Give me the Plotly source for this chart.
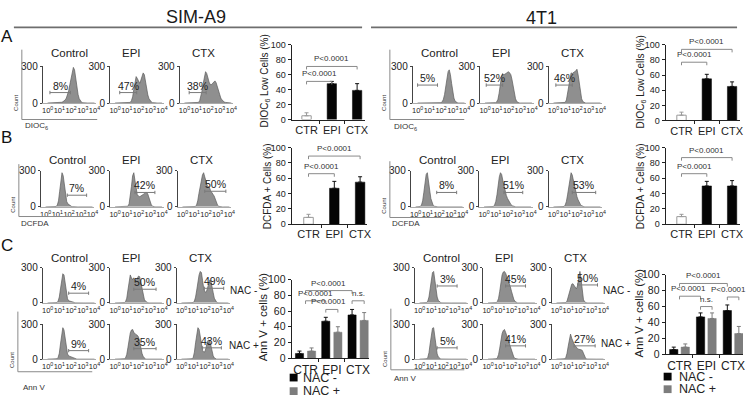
import plotly.graph_objects as go

W, H = 749, 402
FONT = "Liberation Sans Narrow, Arial Narrow, Liberation Sans, Arial, sans-serif"
TXT = "#222222"

# ---------------- data ----------------
LOGX = [0.0, 0.1, 0.2, 0.3, 0.4, 0.5, 0.6, 0.7, 0.8, 0.9, 1.0, 1.1, 1.2, 1.3, 1.4, 1.5, 1.6, 1.7, 1.8, 1.9, 2.0,
        2.1, 2.2, 2.3, 2.4, 2.5, 2.6, 2.7, 2.8, 2.9, 3.0, 3.1, 3.2, 3.3, 3.4, 3.5, 3.6, 3.7, 3.8, 3.9, 4.0]
DECADES = [0, 1, 2, 3, 4]
DECADE_LABELS = ["10<sup>0</sup>", "10<sup>1</sup>", "10<sup>2</sup>", "10<sup>3</sup>", "10<sup>4</sup>"]
CONDS = ["Control", "EPI", "CTX"]
GROUPS = ["CTR", "EPI", "CTX"]

# flow histograms (cell counts per log bin)
SIM_A_CONTROL = [0,0,0,0,0,0,0,0,0,0,0, 3,6,10,15,25,40,65,100,150,205,255,290,270,200,125,70,35,15,6,2, 0,0,0,0,0,0,0,0,0,0]
SIM_A_EPI = [0,0,0,0,0,0,0,0,0,0,0,0,0, 5,20,50,110,180,215,200,175,160,185,225,245,230,170,110,65,35,18,8,3,1, 0,0,0,0,0,0,0]
SIM_A_CTX = [0,0,0,0,0,0,0,0,0,0,0,0, 5,20,50,100,160,220,255,240,200,170,150,150,160,175,180,165,130,95,65,40,25,15,8,5,3,2,1, 0,0]
T1_A_CONTROL = [0,0,0,0,0,0,0,0,0,0,0,0,0,0,0,0,0,0,0,0, 3,10,30,70,130,200,255,270,230,160,90,40,15,5,2, 0,0,0,0,0,0]
T1_A_EPI = [0,0,0,0,0,0,0,0,0, 3,10,30,80,150,215,240,230,235,240,250,255,245,230,190,130,75,35,12,4,1, 0,0,0,0,0,0,0,0,0,0,0]
T1_A_CTX = [0,0,0,0,0,0,0,0,0,0, 5,25,80,160,225,245,240,250,255,260,275,230,150,80,35,12,4,1, 0,0,0,0,0,0,0,0,0,0,0,0,0]

SIM_B_CONTROL = [0,0,0,0,0,0,0,0,0, 3,15,50,130,230,285,260,170,90,45,25,15,8,4,2, 0,0,0,0,0,0,0,0,0,0,0,0,0,0,0,0,0]
SIM_B_EPI = [0,0,0,0,0,0,0,0,0,0,0, 5,25,80,170,260,285,220,140,100,90,85,90,95,100,110,120,120,105,70,35,15,5,1, 0,0,0,0,0,0,0]
SIM_B_CTX = [0,0,0,0,0,0,0,0,0,0,0, 3,15,50,110,170,220,265,285,250,200,180,170,160,135,115,105,90,60,30,12,4,1, 0,0,0,0,0,0,0,0]
T1_B_CONTROL = [0,0,0,0, 3,15,50,120,210,270,285,230,140,70,30,12,5,2, 0,0,0,0,0,0,0,0,0,0,0,0,0,0,0,0,0,0,0,0,0,0,0]
T1_B_EPI = [0,0,0,0,0,0,0,0, 3,15,45,100,180,250,285,270,220,170,130,95,70,50,32,18,9,4,1, 0,0,0,0,0,0,0,0,0,0,0,0,0,0]
T1_B_CTX = [0,0,0,0,0,0,0,0,0, 3,15,45,100,175,245,285,265,215,165,120,85,58,36,20,10,4,1, 0,0,0,0,0,0,0,0,0,0,0,0,0,0]

SIM_C_CONTROL_M = [0,0,0,0,0,0,0,0, 3,15,50,120,200,250,240,160,80,35,18,14,14,10,6,3,1, 0,0,0,0,0,0,0,0,0,0,0,0,0,0,0,0]
SIM_C_EPI_M = [0,0,0,0,0,0,0,0, 3,12,40,110,190,240,215,200,215,195,190,210,230,225,170,110,60,30,14,6,2, 0,0,0,0,0,0,0,0,0,0,0,0]
SIM_C_CTX_M = [0,0,0,0,0,0,0,0,0,0, 3,15,50,110,180,240,270,260,190,120,95,90,120,175,195,190,150,90,40,15,5,1, 0,0,0,0,0,0,0,0,0]
SIM_C_CONTROL_P = [0,0,0,0,0,0,0,0, 3,15,50,130,220,270,250,165,85,45,28,24,22,16,9,4,1, 0,0,0,0,0,0,0,0,0,0,0,0,0,0,0,0]
SIM_C_EPI_P = [0,0,0,0,0,0,0,0, 3,12,40,100,170,225,250,255,230,215,210,205,190,150,95,50,22,8,2, 0,0,0,0,0,0,0,0,0,0,0,0,0,0]
SIM_C_CTX_P = [0,0,0,0,0,0,0,0,0, 3,15,60,140,230,270,255,180,110,75,60,65,100,150,165,160,120,70,30,10,3, 0,0,0,0,0,0,0,0,0,0,0]
T1_C_CONTROL_M = [0,0,0,0,0,0, 3,15,50,120,200,260,270,200,110,50,20,8,3,1, 0,0,0,0,0,0,0,0,0,0,0,0,0,0,0,0,0,0,0,0,0]
T1_C_EPI_M = [0,0,0,0,0,0,0, 3,12,40,100,180,240,265,270,255,230,200,175,140,100,60,30,12,4,1, 0,0,0,0,0,0,0,0,0,0,0,0,0,0,0]
T1_C_CTX_M = [0,0,0,0,0,0,0,0, 3,15,50,100,140,160,165,150,125,120,150,230,270,200,90,30,8,2, 0,0,0,0,0,0,0,0,0,0,0,0,0,0,0]
T1_C_CONTROL_P = [0,0,0,0,0,0, 3,15,55,130,210,265,270,190,100,45,18,7,2,1, 0,0,0,0,0,0,0,0,0,0,0,0,0,0,0,0,0,0,0,0,0]
T1_C_EPI_P = [0,0,0,0,0,0,0, 3,12,40,95,165,220,245,255,230,200,170,140,105,70,40,18,6,2, 0,0,0,0,0,0,0,0,0,0,0,0,0,0,0,0]
T1_C_CTX_P = [0,0,0,0,0,0,0, 3,15,50,110,180,215,180,150,130,115,100,90,85,85,80,75,45,15,4,1, 0,0,0,0,0,0,0,0,0,0,0,0,0,0]

# gated percentages
SIM_A_PCT = ["8%", "47%", "38%"]
T1_A_PCT = ["5%", "52%", "46%"]
SIM_B_PCT = ["7%", "42%", "50%"]
T1_B_PCT = ["8%", "51%", "53%"]
SIM_C_PCT_M = ["4%", "50%", "49%"]
SIM_C_PCT_P = ["9%", "35%", "43%"]
T1_C_PCT_M = ["3%", "45%", "50%"]
T1_C_PCT_P = ["5%", "41%", "27%"]

# gate ranges (log10 start, log10 end)
SIM_A_GATES = [(0.2, 1.95), (0.4, 1.85), (0.4, 1.85)]
T1_A_GATES = [(0.0, 1.7), (0.1, 1.5), (0.2, 1.6)]
SIM_B_GATES = [(1.85, 3.5), (1.7, 3.4), (1.9, 3.7)]
T1_B_GATES = [(1.8, 3.5), (1.7, 3.3), (1.6, 3.6)]
SIM_C_GATES_M = [(1.8, 3.5), (1.6, 3.5), (1.95, 3.6)]
SIM_C_GATES_P = [(1.8, 3.5), (1.6, 3.5), (1.8, 3.4)]
T1_C_GATES_M = [(1.5, 3.2), (1.5, 3.2), (1.8, 3.5)]
T1_C_GATES_P = [(1.5, 3.2), (1.5, 3.2), (1.5, 3.3)]

# bar chart values (mean, upper error)
SIM_A_MEAN = [5, 48, 39]
SIM_A_ERR = [4, 3, 9]
T1_A_MEAN = [7, 55, 45]
T1_A_ERR = [4, 6, 6]
SIM_B_MEAN = [9, 47, 55]
SIM_B_ERR = [4, 9, 7]
T1_B_MEAN = [10, 50, 50]
T1_B_ERR = [3, 6, 7]
SIM_C_NAC_MINUS = [6, 47, 55]
SIM_C_NAC_MINUS_ERR = [3, 5, 7]
SIM_C_NAC_PLUS = [9, 33, 48]
SIM_C_NAC_PLUS_ERR = [4, 7, 10]
T1_C_NAC_MINUS = [6, 47, 55]
T1_C_NAC_MINUS_ERR = [3, 5, 7]
T1_C_NAC_PLUS = [9, 45, 26]
T1_C_NAC_PLUS_ERR = [4, 7, 9]

for _s in [SIM_A_CONTROL, SIM_A_EPI, SIM_A_CTX, T1_A_CONTROL, T1_A_EPI, T1_A_CTX, SIM_B_CONTROL, SIM_B_EPI,
           SIM_B_CTX, T1_B_CONTROL, T1_B_EPI, T1_B_CTX, SIM_C_CONTROL_M, SIM_C_EPI_M, SIM_C_CTX_M,
           SIM_C_CONTROL_P, SIM_C_EPI_P, SIM_C_CTX_P, T1_C_CONTROL_M, T1_C_EPI_M, T1_C_CTX_M,
           T1_C_CONTROL_P, T1_C_EPI_P, T1_C_CTX_P]:
    assert len(_s) == len(LOGX), len(_s)

# ---------------- helpers ----------------
fig = go.Figure()
axes = {}
annotations = []
shapes = []
counter = [0]


def new_axes(px0, px1, py_top, py_bot, xr, yr, xo, yo):
    counter[0] += 1
    n = counter[0]
    s = "" if n == 1 else str(n)
    axes["xaxis" + s] = dict(domain=[px0 / W, px1 / W], range=xr, anchor="y" + s, fixedrange=True, **xo)
    axes["yaxis" + s] = dict(domain=[1 - py_bot / H, 1 - py_top / H], range=yr, anchor="x" + s,
                             fixedrange=True, **yo)
    return "x" + s, "y" + s


def ptext(x, y, text, size, color=TXT, angle=0, xanchor="center"):
    annotations.append(dict(x=x / W, y=1 - y / H, xref="paper", yref="paper", text=text, showarrow=False,
                            font=dict(size=size, color=color, family=FONT), textangle=angle,
                            xanchor=xanchor, yanchor="middle"))


def pline(x0, y0, x1, y1, color="#777777", width=1.0):
    shapes.append(dict(type="line", xref="paper", yref="paper", x0=x0 / W, y0=1 - y0 / H, x1=x1 / W,
                       y1=1 - y1 / H, line=dict(color=color, width=width)))


def prect(x0, y0, x1, y1, color):
    shapes.append(dict(type="rect", xref="paper", yref="paper", x0=x0 / W, y0=1 - y1 / H, x1=x1 / W,
                       y1=1 - y0 / H, fillcolor=color, line=dict(width=0)))


HIST_W = 54
HIST_XR = [-0.42, 4.15]


def histogram(px, ytop, ybot, counts, pct, gate, gate_y):
    xo = dict(tickmode="array", tickvals=DECADES, ticktext=DECADE_LABELS, tickangle=0,
              tickfont=dict(size=7.5, color=TXT, family=FONT), showline=True, linecolor="#aaaaaa",
              linewidth=0.8, ticks="", showgrid=False, zeroline=False)
    yo = dict(tickmode="array", tickvals=[0, 300], ticktext=["0", "300"],
              tickfont=dict(size=10, color=TXT, family=FONT), showline=True, linecolor="#444444",
              linewidth=0.9, ticks="outside", ticklen=2, tickcolor="#444444", showgrid=False, zeroline=False)
    xr, yr = new_axes(px, px + HIST_W, ytop, ybot, HIST_XR, [0, 300], xo, yo)
    fig.add_trace(go.Scatter(x=LOGX, y=counts, xaxis=xr, yaxis=yr, mode="lines",
                             line=dict(color="#5c5c5c", width=0.7), fill="tozeroy",
                             fillcolor="#8f8f8f", hoverinfo="skip"))
    g0, g1 = gate
    t = 14
    shapes.append(dict(type="path", xref=xr, yref=yr,
                       path=f"M {g0},{gate_y - t} L {g0},{gate_y + t} M {g0},{gate_y} L {g1},{gate_y} "
                            f"M {g1},{gate_y - t} L {g1},{gate_y + t}",
                       line=dict(color="#7a7a7a", width=1)))
    annotations.append(dict(x=(g0 + g1) / 2, y=gate_y, xref=xr, yref=yr, text=pct, showarrow=False,
                            yanchor="bottom", yshift=-1, font=dict(size=10.5, color=TXT, family=FONT)))


def bar_axes(geom, tick_size, cat_size, minor_vals):
    ax_px, right_px, c0, sp, y100, y0 = geom
    xr_ = [(ax_px - c0) / sp, (right_px - c0) / sp]
    xo = dict(tickmode="array", tickvals=list(range(len(GROUPS))), ticktext=GROUPS, ticks="",
              tickfont=dict(size=cat_size, color=TXT, family=FONT), showline=True, linecolor="#222222",
              linewidth=1, showgrid=False, zeroline=False,
              minor=dict(tickmode="array", tickvals=minor_vals, ticks="outside", ticklen=3,
                         tickcolor="#222222", showgrid=False))
    yo = dict(tickmode="array", tickvals=[0, 20, 40, 60, 80, 100],
              tickfont=dict(size=tick_size, color=TXT, family=FONT),
              showline=True, linecolor="#222222", linewidth=1, ticks="outside", ticklen=3,
              tickcolor="#222222", showgrid=False, zeroline=False)
    return new_axes(ax_px, right_px, y100, y0, xr_, [0, 100], xo, yo)


def add_brackets(xr, yr, brackets, size=8):
    for (b0, b1, yb, txt, dx) in brackets:
        shapes.append(dict(type="path", xref=xr, yref=yr,
                           path=f"M {b0},{yb - 4} L {b0},{yb} L {b1},{yb} L {b1},{yb - 4}",
                           line=dict(color="#8a8a8a", width=1)))
        annotations.append(dict(x=(b0 + b1) / 2, y=yb, xref=xr, yref=yr, text=txt, showarrow=False,
                                yanchor="bottom", yshift=1, xshift=dx,
                                font=dict(size=size, color="#333333", family=FONT)))


def single_bar(geom, means, errs, brackets):
    xr, yr = bar_axes(geom, 9, 11, [0.5, 1.5])
    idx = list(range(len(GROUPS)))
    fig.add_trace(go.Bar(x=idx[:1], y=means[:1], xaxis=xr, yaxis=yr, width=0.37,
                         marker=dict(color="white", line=dict(color="#9a9a9a", width=1)),
                         error_y=dict(type="data", symmetric=False, array=errs[:1], arrayminus=[0],
                                      color="#9a9a9a", thickness=1, width=2), hoverinfo="skip"))
    fig.add_trace(go.Bar(x=idx[1:], y=means[1:], xaxis=xr, yaxis=yr, width=0.37,
                         marker=dict(color="#050505", line=dict(color="#050505", width=0.5)),
                         error_y=dict(type="data", symmetric=False, array=errs[1:], arrayminus=[0, 0],
                                      color="#111111", thickness=1, width=2), hoverinfo="skip"))
    add_brackets(xr, yr, brackets)


def double_bar(geom, off, m1, e1, m2, e2, brackets):
    xr, yr = bar_axes(geom, 10.5, 12, [0.5, 1.5, 2.5])
    idx = list(range(len(GROUPS)))
    fig.add_trace(go.Bar(x=[i - off for i in idx], y=m1, xaxis=xr, yaxis=yr, width=0.31,
                         marker=dict(color="#050505", line=dict(color="#050505", width=0.5)),
                         error_y=dict(type="data", symmetric=False, array=e1, arrayminus=[0, 0, 0],
                                      color="#111111", thickness=1, width=2), hoverinfo="skip"))
    fig.add_trace(go.Bar(x=[i + off for i in idx], y=m2, xaxis=xr, yaxis=yr, width=0.31,
                         marker=dict(color="#7d7d7d", line=dict(color="#7d7d7d", width=0.5)),
                         error_y=dict(type="data", symmetric=False, array=e2, arrayminus=[0, 0, 0],
                                      color="#7d7d7d", thickness=1, width=2), hoverinfo="skip"))
    add_brackets(xr, yr, brackets)


# ---------------- headers ----------------
ptext(197, 11, "SIM-A9", 18, color="#1a1a1a")
ptext(545, 12, "4T1", 18, color="#1a1a1a")
pline(13, 22, 364, 22, "#6e6e6e", 1.6)
pline(373, 22, 742, 22, "#6e6e6e", 1.6)
ptext(6, 31, "A", 17, color="#111111")
ptext(6, 136, "B", 17, color="#111111")
ptext(6, 247, "C", 17, color="#111111")

# ---------------- histograms ----------------
HIST_ROWS = [
    # x positions of y-axes, top px, zero px, title y px, series, pct labels, gates, gate heights
    ([42, 110, 180], 62, 100, 48, [SIM_A_CONTROL, SIM_A_EPI, SIM_A_CTX], SIM_A_PCT, SIM_A_GATES, [85, 85, 85]),
    ([415, 483, 552], 62, 100, 48, [T1_A_CONTROL, T1_A_EPI, T1_A_CTX], T1_A_PCT, T1_A_GATES, [146, 146, 146]),
    ([40, 110, 178], 170, 207, 159, [SIM_B_CONTROL, SIM_B_EPI, SIM_B_CTX], SIM_B_PCT, SIM_B_GATES, [97, 120, 130]),
    ([413, 482, 552], 170, 207, 159, [T1_B_CONTROL, T1_B_EPI, T1_B_CTX], T1_B_PCT, T1_B_GATES, [120, 120, 120]),
    ([42, 110, 177], 270, 306, 260, [SIM_C_CONTROL_M, SIM_C_EPI_M, SIM_C_CTX_M], SIM_C_PCT_M, SIM_C_GATES_M, [83, 117, 125]),
    ([42, 110, 177], 328, 364, None, [SIM_C_CONTROL_P, SIM_C_EPI_P, SIM_C_CTX_P], SIM_C_PCT_P, SIM_C_GATES_P, [73, 90, 97]),
    ([417, 486, 555], 270, 306, 260, [T1_C_CONTROL_M, T1_C_EPI_M, T1_C_CTX_M], T1_C_PCT_M, T1_C_GATES_M, [145, 145, 154]),
    ([417, 486, 555], 328, 364, None, [T1_C_CONTROL_P, T1_C_EPI_P, T1_C_CTX_P], T1_C_PCT_P, T1_C_GATES_P, [97, 114, 114]),
]
TITLE_DX = [27, 22, 24]
for xs, ytop, ybot, ty, series, pcts, gates, gys in HIST_ROWS:
    for k in range(3):
        histogram(xs[k], ytop, ybot, series[k], pcts[k], gates[k], gys[k])
        if ty is not None:
            ptext(xs[k] + TITLE_DX[k], ty, CONDS[k], 11.5)

# outer Count / marker axes
OUTER = [
    (21, 45, 117, 97, "DIOC<sub>6</sub>", 36, 124, 100),
    (392, 45, 117, 467, "DIOC<sub>6</sub>", 408, 125, 100),
    (18, 163, 217, 92, "DCFDA", 34, 224, 205),
    (392, 160, 218, 467, "DCFDA", 408, 224, 206),
    (17, 315, 377, 92, "Ann V", 33, 393, 365),
    (393, 312, 375, 467, "Ann V", 407, 384, 364),
]
for (lx, ly0, ly1, rx, lab, labx, laby, cy) in OUTER:
    pline(lx, ly0, lx, ly1, "#8a8a8a", 1)
    pline(lx, ly1, rx, ly1, "#8a8a8a", 1)
    ptext(labx, laby, lab, 8, color="#333333")
    ptext(lx - 6, cy, "Count", 6, color="#333333", angle=-90)

# NAC labels beside histogram rows
ptext(244, 293, "NAC -", 10)
ptext(245, 350, "NAC +", 10)
ptext(620, 293, "NAC -", 10)
ptext(620, 348, "NAC +", 10)

# ---------------- bar charts ----------------
single_bar((293, 367, 308, 25.5, 40, 117), SIM_A_MEAN, SIM_A_ERR,
           [(0, 1, 51, "P<0.0001", 0), (0, 2, 71, "P<0.0001", 0)])
single_bar((670, 745, 686, 25.5, 40, 118), T1_A_MEAN, T1_A_ERR,
           [(0, 1, 77, "P<0.0001", 0), (0, 2, 94, "P<0.0001", 0)])
single_bar((293, 369, 310, 26, 146, 225), SIM_B_MEAN, SIM_B_ERR,
           [(0, 1, 66, "P<0.0001", 0), (0, 2, 89, "P<0.0001", 0)])
single_bar((670, 745, 686, 25.5, 146, 225), T1_B_MEAN, T1_B_ERR,
           [(0, 1, 66, "P<0.0001", 0), (0, 2, 87, "P<0.0001", 0)])
double_bar((293, 371, 307, 26.5, 282, 363), 0.23, SIM_C_NAC_MINUS, SIM_C_NAC_MINUS_ERR,
           SIM_C_NAC_PLUS, SIM_C_NAC_PLUS_ERR,
           [(0, 1.77, 86, "P<0.0001", 0), (0, 0.77, 73, "P<0.0001", 0), (0.77, 1.23, 62, "P<0.0001", -3),
            (1.77, 2.23, 73, "n.s.", 0)])
double_bar((670, 748, 684, 27, 277, 359), 0.215, T1_C_NAC_MINUS, T1_C_NAC_MINUS_ERR,
           T1_C_NAC_PLUS, T1_C_NAC_PLUS_ERR,
           [(0, 1.785, 89, "P<0.0001", 0), (0, 0.785, 73, "P<0.0001", -2), (0.785, 1.215, 60, "n.s.", 0),
            (1.785, 2.215, 72, "P<0.0001", -5)])

# bar chart y titles
ptext(266, 77, "DIOC<sub>6</sub> Low Cells (%)", 10, angle=-90)
ptext(645, 78, "DIOC<sub>6</sub> Low Cells (%)", 10, angle=-90)
ptext(269, 186, "DCFDA + Cells (%)", 10, angle=-90)
ptext(645, 186, "DCFDA + Cells (%)", 10, angle=-90)
ptext(265, 320, "Ann V + cells (%)", 11.5, angle=-90)
ptext(643, 316, "Ann V + cells (%)", 11.5, angle=-90)

# legends for NAC bars
for (sx, tx, y1, y2) in [(291, 302, 383, 397), (668, 681, 382, 395)]:
    prect(sx, y1 - 4, sx + 8, y1 + 4, "#050505")
    ptext(tx, y1, "NAC -", 12.5, xanchor="left")
    prect(sx, y2 - 4, sx + 8, y2 + 4, "#7d7d7d")
    ptext(tx, y2, "NAC +", 12.5, xanchor="left")

fig.update_layout(width=W, height=H, margin=dict(l=0, r=0, t=0, b=0), paper_bgcolor="white",
                  plot_bgcolor="rgba(0,0,0,0)", showlegend=False, barmode="overlay",
                  font=dict(family=FONT, color=TXT), annotations=annotations, shapes=shapes, **axes)
fig.write_html("out.html", config={"displayModeBar": False},
               post_script="document.body.style.margin='0';document.body.style.padding='0';")
